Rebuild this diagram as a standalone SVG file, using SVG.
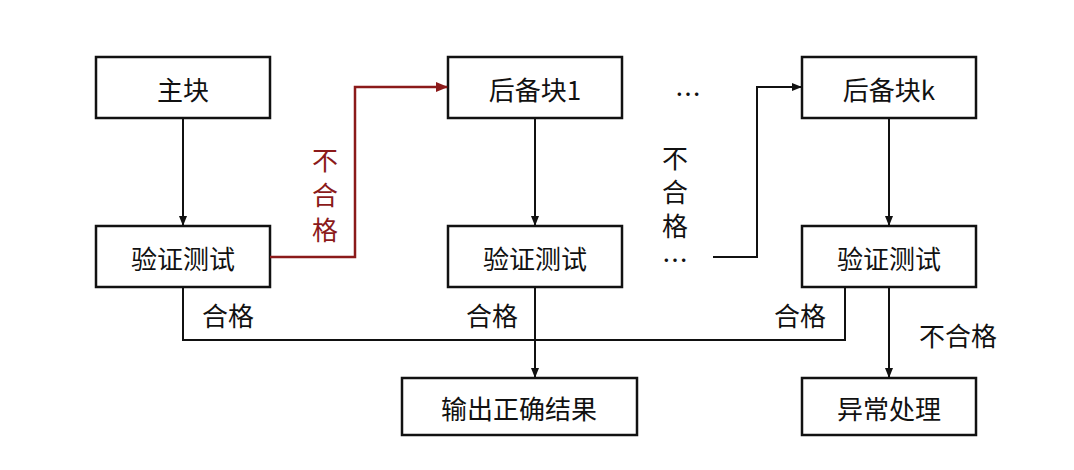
<svg xmlns="http://www.w3.org/2000/svg" width="1074" height="470" viewBox="0 0 1074 470">
<defs>
<marker id="a" markerWidth="10" markerHeight="10" refX="9" refY="5" orient="auto" markerUnits="userSpaceOnUse"><path d="M0,1 L10,5 L0,9 Z" fill="#111"/></marker>
<marker id="r" markerWidth="12" markerHeight="12" refX="11" refY="6" orient="auto" markerUnits="userSpaceOnUse"><path d="M0,1 L12,6 L0,11 Z" fill="#8b1a1a"/></marker>
<style>
rect{fill:#fff;stroke:#111;stroke-width:2.5}
text{font-family:"Noto Sans CJK SC","Liberation Sans",sans-serif;font-size:26px;fill:#111;text-anchor:middle;dominant-baseline:central}
.c{fill:none;stroke:#111;stroke-width:2}
</style>
</defs>
<rect x="0" y="0" width="1074" height="470" style="fill:#fff;stroke:none"/>
<g id="n1"><rect x="96" y="57" width="174" height="61"/><text x="183" y="88">主块</text></g>
<g id="n2"><rect x="448" y="57" width="174" height="61"/><text x="535" y="88">后备块1</text></g>
<g id="n3"><rect x="802" y="57" width="174" height="61"/><text x="889" y="88">后备块k</text></g>
<g id="v1"><rect x="96" y="226" width="174" height="61"/><text x="183" y="257">验证测试</text></g>
<g id="v2"><rect x="448" y="226" width="174" height="61"/><text x="535" y="257">验证测试</text></g>
<g id="v3"><rect x="802" y="226" width="174" height="61"/><text x="889" y="257">验证测试</text></g>
<g id="o"><rect x="402" y="378" width="235" height="57"/><text x="519" y="407">输出正确结果</text></g>
<g id="e"><rect x="802" y="378" width="174" height="57"/><text x="889" y="407">异常处理</text></g>
<g id="connectors">
<path class="c" d="M183,118 V225" marker-end="url(#a)"/>
<path class="c" d="M535,118 V225" marker-end="url(#a)"/>
<path class="c" d="M889,118 V225" marker-end="url(#a)"/>
<path d="M270,257 H355 V87 H447" fill="none" stroke="#8b1a1a" stroke-width="2.5" marker-end="url(#r)"/>
<path class="c" d="M713,257 H757 V87 H801" marker-end="url(#a)"/>
<path class="c" d="M183,287 V340 H845 V287"/>
<path class="c" d="M535,287 V377" marker-end="url(#a)"/>
<path class="c" d="M889,287 V377" marker-end="url(#a)"/>
</g>
<g id="labels">
<text x="325" y="158" style="fill:#8b1a1a">不</text>
<text x="325" y="193" style="fill:#8b1a1a">合</text>
<text x="325" y="228" style="fill:#8b1a1a">格</text>
<text x="675" y="156">不</text>
<text x="675" y="190">合</text>
<text x="675" y="224">格</text>
<text x="688" y="92">…</text>
<text x="675" y="258">…</text>
<text x="228" y="314">合格</text>
<text x="492" y="314">合格</text>
<text x="800" y="314">合格</text>
<text x="958" y="334">不合格</text>
</g>
</svg>
